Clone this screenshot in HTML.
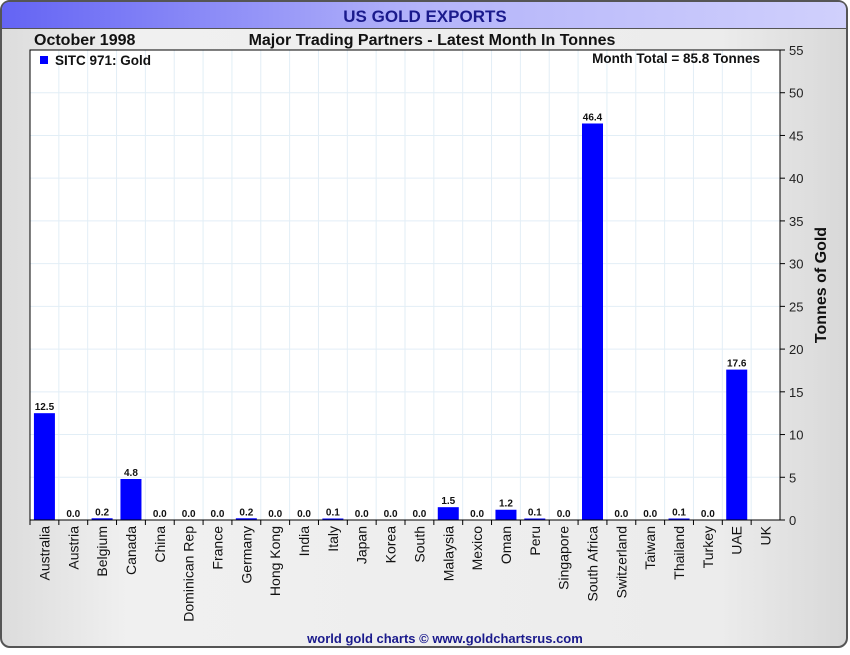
<!DOCTYPE html>
<html><head><meta charset="utf-8"><style>
body{margin:0;width:850px;height:650px;overflow:hidden;background:#fff;font-family:"Liberation Sans",sans-serif}
</style></head><body>
<svg width="850" height="650" xmlns="http://www.w3.org/2000/svg" id="chart">
<defs>
<linearGradient id="tg" x1="0" x2="1"><stop offset="0" stop-color="#6464f4"/><stop offset="0.5" stop-color="#b4b4fa"/><stop offset="1" stop-color="#d0d0fc"/></linearGradient>
<linearGradient id="bg" x1="0" x2="1"><stop offset="0" stop-color="#dcdcdc"/><stop offset="0.15" stop-color="#f0f0f0"/><stop offset="0.85" stop-color="#ececec"/><stop offset="1" stop-color="#d8d8d8"/></linearGradient>
</defs>
<rect x="1" y="1" width="846" height="646" rx="9" fill="url(#bg)" stroke="#555" stroke-width="2"/>
<path d="M2 28 V10 Q2 2 10 2 H838 Q846 2 846 10 V28 Z" fill="url(#tg)"/>
<line x1="2" y1="28.5" x2="846" y2="28.5" stroke="#555"/>
<text x="425" y="22" text-anchor="middle" font-size="17" font-weight="bold" fill="#1a1a8c">US GOLD EXPORTS</text>
<text x="34" y="45" font-size="16" font-weight="bold" fill="#111">October 1998</text>
<text x="432" y="45" text-anchor="middle" font-size="16" font-weight="bold" fill="#111">Major Trading Partners - Latest Month In Tonnes</text>
<rect x="30" y="50" width="750" height="470" fill="#fff"/>
<g id="grid"></g>
<g id="bars"></g>
<rect x="30" y="50" width="750" height="470" fill="none" stroke="#000"/>
<g id="axes"></g>
<rect x="40" y="56" width="8" height="8" fill="#0000ff"/>
<text x="55" y="65" font-size="13.5" font-weight="bold" fill="#111">SITC 971: Gold</text>
<text x="760" y="63" text-anchor="end" font-size="13.5" font-weight="bold" fill="#111">Month Total = 85.8 Tonnes</text>
<text transform="translate(826,285) rotate(-90)" text-anchor="middle" font-size="16" font-weight="bold" fill="#111">Tonnes of Gold</text>
<text x="445" y="643" text-anchor="middle" font-size="13" font-weight="bold" fill="#1a1a8c">world gold charts © www.goldchartsrus.com</text>
</svg>
<script>
const categories=["Australia","Austria","Belgium","Canada","China","Dominican Rep","France","Germany","Hong Kong","India","Italy","Japan","Korea","South","Malaysia","Mexico","Oman","Peru","Singapore","South Africa","Switzerland","Taiwan","Thailand","Turkey","UAE","UK"];
const values=[12.5,0.0,0.2,4.8,0.0,0.0,0.0,0.2,0.0,0.0,0.1,0.0,0.0,0.0,1.5,0.0,1.2,0.1,0.0,46.4,0.0,0.0,0.1,0.0,17.6,null];
const yTicks=[0,5,10,15,20,25,30,35,40,45,50,55];
const NS="http://www.w3.org/2000/svg";
const L=30,R=780,T=50,B=520,yMax=55;
const step=(R-L)/categories.length;
function x(i){return L+step*i;}
function y(v){return B-(v/yMax)*(B-T);}
function mk(tag,attrs,parent){const e=document.createElementNS(NS,tag);for(const k in attrs)e.setAttribute(k,attrs[k]);parent.appendChild(e);return e;}
const grid=document.getElementById('grid'),bars=document.getElementById('bars'),axes=document.getElementById('axes');
yTicks.forEach(t=>{
  if(t>0&&t<yMax){const g=mk('line',{x1:L,x2:R,y1:y(t),y2:y(t),stroke:'#e2eef6'},grid);
  
  }
  const tk=mk('line',{x1:R,x2:R+5,y1:y(t),y2:y(t),stroke:'#000'},axes);
  
  
  const tl=mk('text',{x:R+9,y:y(t)+5,'font-size':13,fill:'#222'},axes);
  tl.textContent=t;
  
  
});
categories.forEach((c,i)=>{
  if(i>0){const g=mk('line',{x1:x(i),x2:x(i),y1:T,y2:B,stroke:'#e2eef6'},grid);
  
  }
  const tk=mk('line',{x1:x(i),x2:x(i),y1:B,y2:B+5,stroke:'#000'},axes);
  
  
  const cx=x(i)+step/2;
  const lb=mk('text',{transform:`translate(${cx+5},${B+6}) rotate(-90)`,'text-anchor':'end','font-size':14,fill:'#111'},axes);
  lb.textContent=c;
  
  
  const v=values[i];
  if(v!==null){
    const bw=21;
    const h=Math.max(B-y(v),v>0?1.5:0);
    const r=mk('rect',{x:cx-bw/2,y:B-h,width:bw,height:h,fill:'#0000ff'},bars);
    
    
    const t=mk('text',{x:cx,y:B-h-3,'text-anchor':'middle','font-size':10,'font-weight':'bold',fill:'#111'},bars);
    t.textContent=v.toFixed(1);
    
    
  }
});
</script>
</body></html>
